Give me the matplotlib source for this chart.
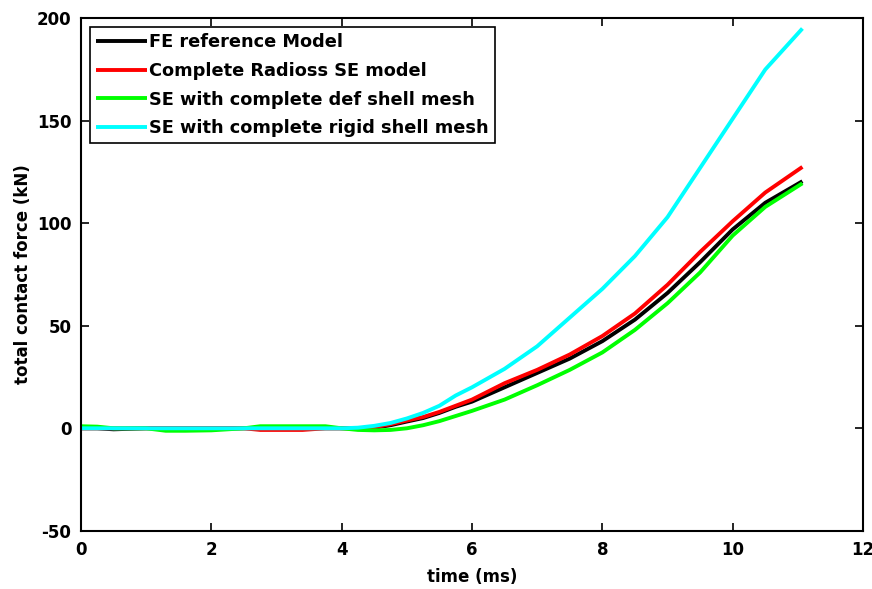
import matplotlib
matplotlib.use("Agg")
import matplotlib.pyplot as plt

# ---- data ----
time_ms = [0, 0.25, 0.5, 1.0, 1.3, 1.6, 2.0, 2.5, 2.75, 3.0, 3.4, 3.75, 4.0,
           4.25, 4.5, 4.75, 5.0, 5.25, 5.5, 5.75, 6.0, 6.5, 7.0, 7.5, 8.0,
           8.5, 9.0, 9.5, 10.0, 10.5, 11.07]

fe_reference = [0, 0, -0.5, 0, 0, 0, 0, 0, 0, 0, 0, 0, 0,
                0, 0.3, 1.5, 3.3, 5, 7.5, 10.5, 13, 20, 27, 34, 42.5,
                53, 66, 81, 97, 110, 120.5]

radioss_se = [0, 0, 0, 0, 0, 0, 0, 0, -0.8, -0.8, -0.8, 0, 0,
              0, 0.5, 2, 3.8, 5.5, 8, 11, 14, 22, 28.5, 36, 45,
              56, 70, 86, 101, 115, 127.5]

se_def_shell = [1, 0.8, 0, 0, -1.2, -1.2, -1, 0, 1, 1, 1, 1, 0,
                -0.8, -1, -0.8, 0, 1.5, 3.5, 6, 8.5, 14, 21, 28.5, 37,
                48, 61, 76, 94, 108, 119.5]

se_rigid_shell = [0, 0, 0, 0, 0, 0, 0, 0, 0, 0, 0, 0, 0,
                  0.3, 1.2, 2.6, 4.8, 7.5, 11, 16, 20, 29, 40, 54, 68,
                  84, 103, 127, 151, 175, 195]

series_labels = ["FE reference Model", "Complete Radioss SE model",
                 "SE with complete def shell mesh", "SE with complete rigid shell mesh"]
series_colors = ["#000000", "#ff0000", "#00ff00", "#00ffff"]

x_ticks = [0, 2, 4, 6, 8, 10, 12]
y_ticks = [-50, 0, 50, 100, 150, 200]

plt.rcParams['font.family'] = ['DejaVu Sans']
plt.rcParams['font.weight'] = 'bold'
plt.rcParams['axes.unicode_minus'] = False

fig = plt.figure(figsize=(8.72, 5.89), dpi=100)
ax = fig.add_axes([0.0929, 0.0988, 0.8968, 0.8702])

for ys, lab, col in zip([fe_reference, radioss_se, se_def_shell, se_rigid_shell],
                        series_labels, series_colors):
    ax.plot(time_ms, ys, color=col, lw=2.8, label=lab, solid_capstyle='butt')

ax.set_xlim(0, 12)
ax.set_ylim(-50, 200)
ax.set_xticks(x_ticks)
ax.set_yticks(y_ticks)
ax.tick_params(direction='in', length=6, width=1.2, top=True, right=True,
               labelsize=12, pad=7)
for lbl in ax.get_xticklabels() + ax.get_yticklabels():
    lbl.set_fontweight('bold')
for sp in ax.spines.values():
    sp.set_linewidth(1.5)

ax.set_xlabel("time (ms)", fontsize=12, fontweight='bold', labelpad=7)
ax.set_ylabel("total contact force (kN)", fontsize=12, fontweight='bold', labelpad=3)

leg = ax.legend(loc='upper left', bbox_to_anchor=(0.0115, 0.983),
                frameon=True, fancybox=False, handlelength=2.85, handletextpad=0.1,
                labelspacing=0.6, borderpad=0.35, borderaxespad=0.0,
                prop={'weight': 'bold', 'size': 12.8})
leg.get_frame().set_edgecolor('black')
leg.get_frame().set_linewidth(1.2)
leg.get_frame().set_alpha(1)

fig.savefig("out.png", dpi=100)
